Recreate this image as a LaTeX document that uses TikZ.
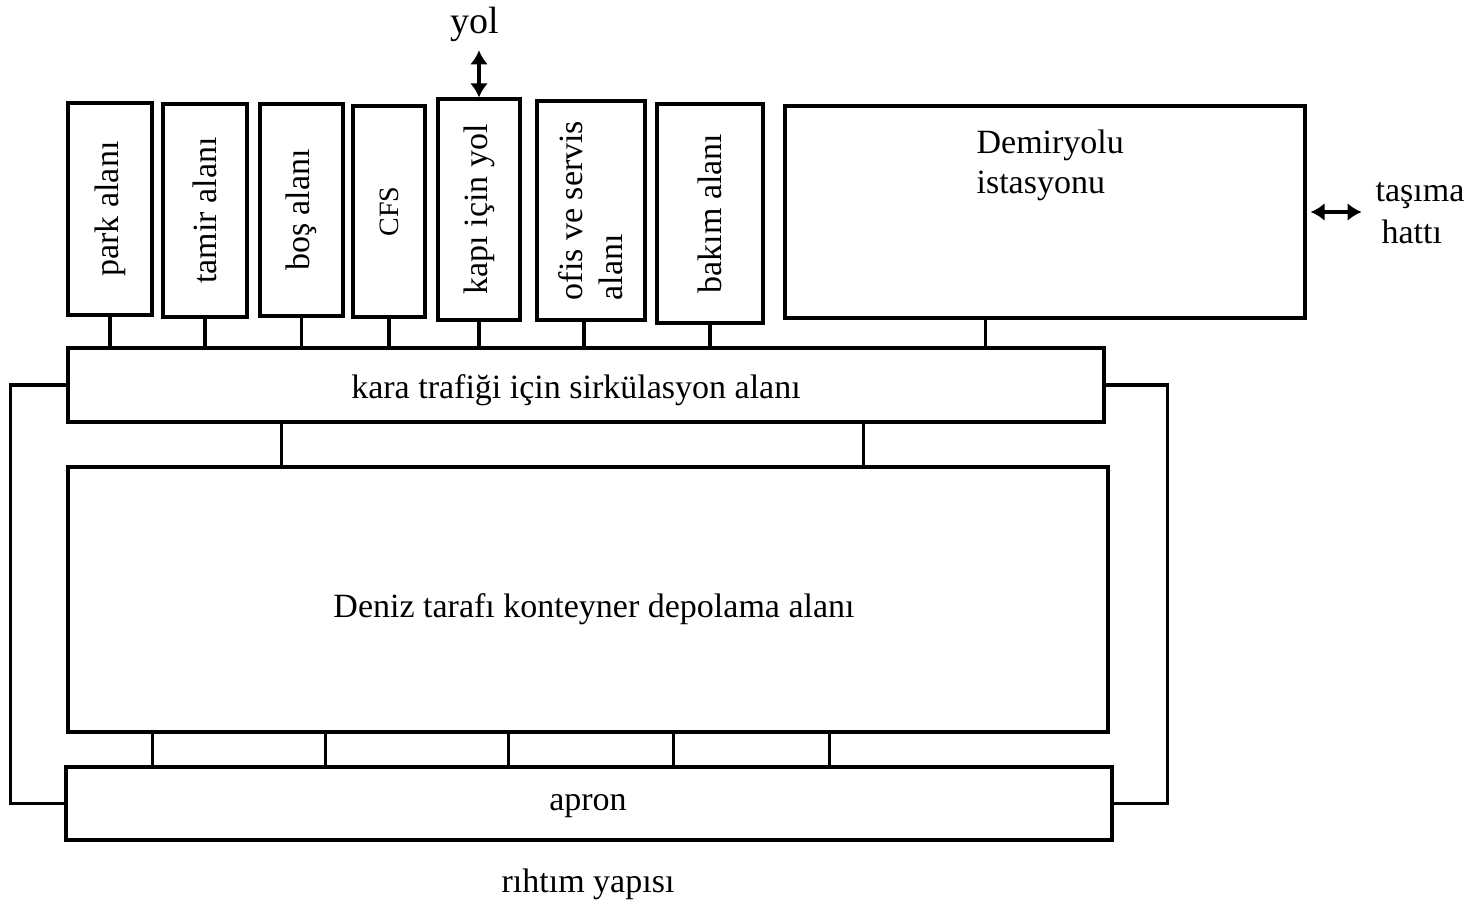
\documentclass[tikz,border=0pt]{standalone}
\usepackage{fontspec}
\setmainfont{Liberation Serif}
\usetikzlibrary{arrows.meta}
\begin{document}
\begin{tikzpicture}[x=0.5pt,y=-0.5pt, line width=1.6pt,
  txt/.style={font=\fontsize{17}{20}\selectfont},
  box/.style={draw, rectangle, inner sep=0pt, txt},
  sz/.style 2 args={minimum width=#1*0.5pt, minimum height=#2*0.5pt},
  vlab/.style={label={[rotate=90, txt, align=left]center:#1}},
  lbl/.style={inner sep=0pt, txt},
  conn/.style={line width=1.6pt},
  dbl/.style={{Latex[length=7pt,width=9pt]}-{Latex[length=7pt,width=9pt]}, line width=1.6pt}]
\useasboundingbox (0,0) rectangle (1482,899);

% top row
\node[box, sz={84}{212}, vlab={park alanı}] (park) at (110,209) {};
\node[box, sz={84}{213}, vlab={tamir alanı}] (tamir) at (205,210.5) {};
\node[box, sz={83}{212}, vlab={boş alanı}] (bos) at (301.5,210) {};
\node[box, sz={72}{211}, label={[rotate=90, font=\fontsize{14}{16}\selectfont]center:CFS}] (cfs) at (389,211.5) {};
\node[box, sz={82}{221}, vlab={kapı için yol}] (kapi) at (479,209.5) {};
\node[box, sz={108}{219}, vlab={ofis ve servis\\alanı}] (ofis) at (591,210.5) {};
\node[box, sz={106}{219}, vlab={bakım alanı}] (bakim) at (710,213.5) {};
\node[box, sz={520}{212}] (demir) at (1045,212) {};
\node[lbl, anchor=north west, align=left] (demirtxt) at (975,128) {Demiryolu\\istasyonu};

% main blocks
\node[box, sz={1036}{74}] (kara) at (586,385) {};
\node[lbl] (karatxt) at (576,390) {kara trafiği için sirkülasyon alanı};
\node[box, sz={1040}{265}] (deniz) at (588,599.5) {};
\node[lbl] (deniztxt) at (594,609) {Deniz tarafı konteyner depolama alanı};
\node[box, sz={1046}{73}] (apron) at (589,803.5) {};
\node[lbl] (aprontxt) at (588,806) {apron};
\node[lbl] (rihtim) at (588,884) {rıhtım yapısı};

% outside labels
\node[lbl, font=\fontsize{19}{22}\selectfont] (yol) at (475,24) {yol};
\node[lbl, anchor=west, align=left, font=\fontsize{17}{21}\selectfont] (tasima) at (1374,213) {taşıma\\\hspace{3pt}hattı};

% top connectors
\foreach \n in {park,tamir,bos,cfs,kapi,bakim}
  \draw[conn] (\n.south) -- (\n.south |- kara.north);
\draw[conn] ([xshift=-3.5pt]ofis.south) -- ([xshift=-3.5pt]ofis.south |- kara.north);
\path (demir.south west) ++(202,0) coordinate (dj);
\draw[conn] (dj) -- (dj |- kara.north);

% kara -> deniz
\path (kara.south west) ++(215,0) coordinate (k1);
\path (kara.south west) ++(797,0) coordinate (k2);
\draw[conn] (k1) -- (k1 |- deniz.north);
\draw[conn] (k2) -- (k2 |- deniz.north);

% deniz -> apron
\foreach \dx in {86,259,442,607,763}{
  \path (deniz.south west) ++(\dx,0) coordinate (dd);
  \draw[conn] (dd) -- (dd |- apron.north);
}

% side loops
\draw[conn] (kara.west) -- ++(-56,0) |- (apron.west);
\draw[conn] (kara.east) -- ++(62,0) |- (apron.east);

% arrows
\draw[dbl] (kapi.north) -- ++(0,-47);
\draw[dbl] ([xshift=2pt]demir.east) -- ++(51,0);
\end{tikzpicture}
\end{document}
